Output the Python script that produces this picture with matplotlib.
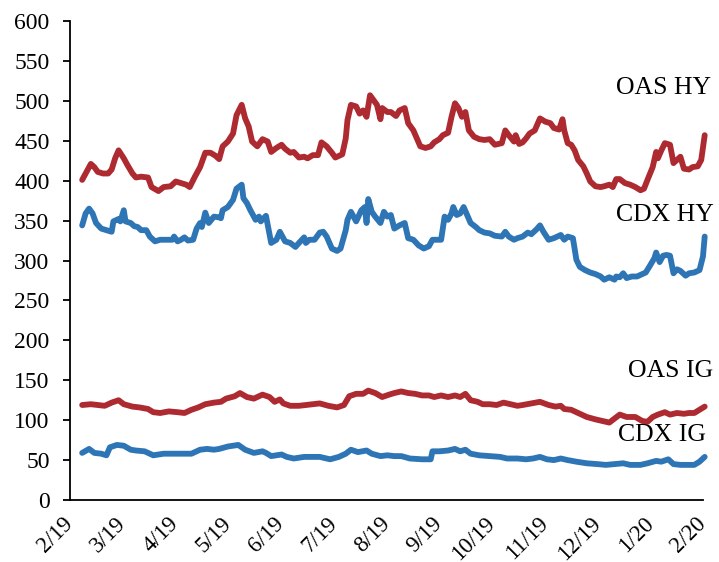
import matplotlib
matplotlib.use("Agg")
import matplotlib.pyplot as plt
import numpy as np

plt.rcParams["font.family"] = ["Liberation Serif", "DejaVu Serif"]

# Spreads in basis points; x values are days after 1 Feb 2019
month_labels = ["2/19", "3/19", "4/19", "5/19", "6/19", "7/19", "8/19",
                "9/19", "10/19", "11/19", "12/19", "1/20", "2/20"]

oas_hy_day = [7, 9, 12, 14, 16, 19, 22, 24, 26, 28, 31, 33, 36, 38, 41, 45, 47, 51, 54, 58,
              61, 64, 67, 69, 72, 75, 78, 81, 84, 86, 88, 91, 94, 96, 99, 101, 103, 105, 108, 111,
              114, 116, 119, 122, 124, 127, 129, 132, 135, 137, 140, 143, 145, 148, 151, 153, 157, 159, 160, 162,
              165, 167, 169, 171, 173, 175, 177, 179, 180, 183, 185, 188, 190, 193, 195, 198, 200, 202, 205, 208,
              210, 213, 215, 218, 220, 222, 224, 226, 228, 230, 233, 236, 239, 242, 245, 249, 251, 253, 256, 257,
              259, 261, 263, 265, 268, 271, 274, 277, 279, 282, 284, 285, 287, 289, 291, 293, 296, 298, 300, 303,
              306, 308, 311, 313, 315, 317, 320, 323, 326, 329, 331, 333, 336, 338, 339, 341, 343, 346, 348, 350,
              352, 354, 357, 359, 362, 364, 366]
oas_hy = [401, 409, 421, 417, 411, 409, 409, 414, 428, 438, 428, 420, 409, 404, 405, 404, 392, 387, 392, 393,
          399, 397, 395, 392, 405, 417, 435, 435, 431, 427, 443, 449, 459, 482, 495, 478, 468, 449, 443, 452,
          449, 436, 441, 445, 440, 435, 436, 429, 430, 428, 432, 432, 448, 443, 435, 429, 433, 453, 476, 495,
          493, 484, 488, 480, 507, 501, 495, 477, 491, 486, 486, 481, 488, 491, 472, 463, 453, 443, 441, 443,
          448, 452, 457, 460, 480, 497, 491, 480, 486, 463, 455, 452, 451, 452, 445, 447, 463, 457, 449, 457,
          446, 448, 453, 459, 463, 478, 474, 472, 466, 464, 477, 463, 447, 445, 438, 426, 418, 409, 399, 393,
          392, 393, 395, 392, 402, 402, 397, 395, 392, 388, 390, 401, 417, 436, 428, 438, 447, 445, 422, 426,
          430, 415, 414, 417, 418, 426, 457]

cdx_hy_day = [7, 9, 11, 13, 15, 18, 21, 24, 25, 28, 29, 31, 32, 35, 37, 39, 41, 44, 46, 49,
              52, 56, 59, 60, 62, 64, 66, 68, 71, 73, 75, 76, 78, 80, 83, 86, 87, 88, 91, 94,
              96, 99, 100, 102, 104, 107, 109, 110, 113, 116, 119, 121, 124, 127, 130, 132, 135, 136, 138, 141,
              144, 146, 148, 151, 154, 156, 159, 160, 162, 165, 168, 170, 171, 172, 174, 176, 179, 181, 183, 185,
              187, 190, 193, 195, 198, 201, 204, 207, 209, 210, 213, 214, 216, 218, 220, 221, 223, 225, 227, 229,
              231, 234, 236, 239, 242, 245, 249, 251, 253, 256, 258, 261, 264, 266, 269, 271, 273, 276, 279, 283,
              285, 287, 290, 292, 294, 297, 300, 303, 306, 308, 311, 314, 315, 317, 319, 321, 324, 327, 329, 332,
              334, 337, 338, 340, 342, 344, 346, 348, 350, 352, 355, 357, 360, 363, 365, 366]
cdx_hy = [344, 359, 365, 359, 347, 340, 338, 336, 349, 352, 349, 363, 349, 347, 343, 342, 338, 338, 330, 324,
          326, 326, 326, 330, 324, 326, 329, 325, 326, 340, 347, 342, 360, 347, 355, 354, 353, 363, 367, 376,
          390, 395, 378, 372, 363, 351, 355, 349, 356, 322, 326, 336, 324, 322, 317, 322, 329, 322, 326, 326,
          335, 336, 330, 315, 312, 315, 338, 351, 361, 349, 363, 367, 347, 377, 361, 355, 347, 361, 355, 357,
          340, 344, 347, 328, 326, 319, 315, 318, 326, 326, 326, 326, 355, 351, 359, 367, 357, 359, 367, 357,
          347, 342, 338, 335, 334, 331, 330, 336, 330, 326, 328, 330, 335, 333, 339, 344, 336, 326, 328, 332,
          326, 330, 328, 301, 292, 288, 285, 283, 280, 276, 279, 276, 280, 279, 284, 278, 280, 280, 282, 285,
          292, 303, 310, 298, 306, 307, 306, 284, 289, 287, 281, 284, 285, 288, 305, 330]

oas_ig_day = [7, 12, 16, 20, 24, 28, 31, 36, 40, 45, 48, 52, 57, 62, 66, 70, 74, 78, 83, 87,
              90, 95, 98, 102, 106, 111, 115, 118, 121, 123, 127, 132, 136, 140, 144, 149, 154, 158, 161, 165,
              169, 172, 176, 180, 184, 187, 191, 195, 199, 203, 207, 210, 214, 218, 222, 225, 228, 231, 235, 238,
              242, 246, 250, 254, 258, 261, 266, 271, 276, 280, 283, 285, 289, 293, 298, 303, 307, 311, 314, 317,
              321, 326, 330, 333, 336, 339, 343, 346, 350, 354, 357, 360, 363, 366]
oas_ig = [119, 120, 119, 118, 122, 125, 120, 117, 116, 114, 110, 109, 111, 110, 109, 113, 116, 120, 122, 123,
          127, 130, 134, 129, 127, 132, 129, 123, 126, 121, 118, 118, 119, 120, 121, 118, 116, 119, 130, 133,
          133, 137, 134, 129, 132, 134, 136, 134, 133, 131, 131, 129, 131, 129, 131, 129, 133, 125, 123, 120,
          120, 119, 122, 120, 118, 119, 121, 123, 119, 117, 118, 114, 113, 109, 104, 101, 99, 97, 102, 107,
          104, 104, 99, 98, 104, 107, 110, 107, 109, 108, 109, 109, 113, 117]

cdx_ig_day = [7, 11, 14, 18, 21, 23, 27, 31, 35, 38, 43, 48, 54, 60, 65, 70, 75, 79, 83, 86,
              91, 97, 101, 106, 111, 113, 116, 122, 125, 129, 135, 139, 144, 150, 155, 159, 162, 166, 171, 174,
              179, 183, 187, 191, 196, 203, 208, 209, 213, 218, 222, 225, 228, 231, 236, 242, 248, 252, 258, 263,
              267, 271, 275, 279, 283, 287, 292, 298, 304, 309, 314, 319, 323, 329, 333, 338, 341, 345, 348, 352,
              356, 360, 363, 366]
cdx_ig = [59, 64, 59, 58, 56, 66, 69, 68, 63, 62, 61, 56, 58, 58, 58, 58, 63, 64, 63, 64,
          67, 69, 63, 59, 61, 59, 55, 57, 54, 52, 54, 54, 54, 51, 54, 58, 63, 60, 62, 58,
          55, 56, 55, 55, 52, 51, 51, 61, 61, 62, 64, 61, 63, 58, 56, 55, 54, 52, 52, 51,
          52, 54, 51, 50, 52, 50, 48, 46, 45, 44, 45, 46, 44, 44, 46, 49, 48, 51, 45, 44,
          44, 44, 48, 54]

red = "#AE2A31"
blue = "#2E75B6"

fig = plt.figure(figsize=(7.19, 5.62), dpi=100)
ax = fig.add_axes([0.0974, 0.1103, 0.8803, 0.8523])

series = [
    (oas_hy_day, oas_hy, red),
    (cdx_hy_day, cdx_hy, blue),
    (oas_ig_day, oas_ig, red),
    (cdx_ig_day, cdx_ig, blue),
]
for days, vals, col in series:
    ax.plot(days, vals, color=col, lw=4.2, solid_joinstyle="round",
            solid_capstyle="round", clip_on=False)

ax.set_xlim(0, 365)
ax.set_ylim(0, 600)
ax.set_yticks(np.arange(0, 601, 50))
ax.set_xticks(np.linspace(0, 365, len(month_labels)))
ax.set_xticklabels(month_labels, rotation=45, ha="right", va="center",
                   rotation_mode="anchor")

for side in ("top", "right"):
    ax.spines[side].set_visible(False)
for side in ("left", "bottom"):
    ax.spines[side].set_linewidth(1.3)
    ax.spines[side].set_color("black")

ax.tick_params(axis="y", direction="out", length=5.2, width=1.3,
               labelsize=17, pad=9.5)
ax.tick_params(axis="x", length=0, labelsize=16.5, pad=14.5)

# Series names placed beside their lines
labels = [("OAS HY", 315, 516), ("CDX HY", 315, 357),
          ("OAS IG", 321.5, 161), ("CDX IG", 316, 81)]
for txt, xd, yd in labels:
    ax.text(xd, yd, txt, fontsize=18.5, ha="left", va="center", clip_on=False)

fig.savefig("out.png", dpi=100)
